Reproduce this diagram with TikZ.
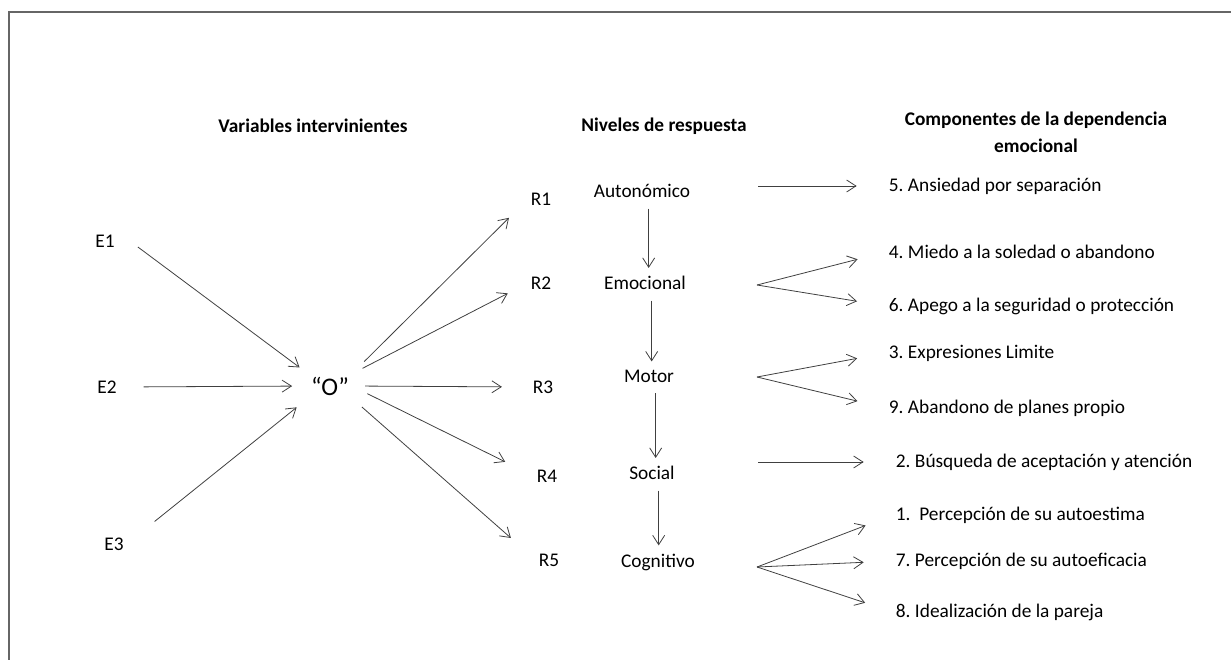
\documentclass[tikz,border=0pt]{standalone}
\usepackage{fontspec}
\setmainfont{Carlito}
\usetikzlibrary{arrows.meta}

\begin{document}
\frenchspacing
\begin{tikzpicture}
  [x=0.75pt,y=-0.75pt,
   every node/.style={font=\fontsize{14.5}{17}\selectfont,inner sep=2pt},
   head/.style={font=\fontsize{14.5}{20}\selectfont\bfseries,align=center},
   comp/.style={anchor=west},
   link/.style={-{Straight Barb[length=7pt,width=9pt]},draw=black!75,line width=0.6pt}]
  \useasboundingbox (0,0) rectangle (1231,660);
  \draw[black!60,line width=0.8pt] (1231,12) -- (9,12) -- (9,660);

  % column headings
  \node[head] (hvar)  at (313,126)  {Variables intervinientes};
  \node[head] (hniv)  at (664,126)  {Niveles de respuesta};
  \node[head] (hcomp) at (1036,132) {Componentes de la dependencia\\emocional};

  % stimuli and organism
  \node (E1) at (105,241) {E1};
  \node (E2) at (107,387) {E2};
  \node (E3) at (114,544) {E3};
  \node[font=\fontsize{19}{22}\selectfont] (O) at (330,386) {“O”};

  % responses
  \node (R1) at (541,199) {R1};
  \node (R2) at (541,283) {R2};
  \node (R3) at (543,387) {R3};
  \node (R4) at (547,476) {R4};
  \node (R5) at (549,560) {R5};

  % levels
  \node (aut) at (642,191) {Autonómico};
  \node (emo) at (645,283) {Emocional};
  \node (mot) at (649,376) {Motor};
  \node (soc) at (652,473) {Social};
  \node (cog) at (658,562) {Cognitivo};

  % components
  \node[comp] (c5) at (886,186) {5. Ansiedad por separación};
  \node[comp] (c4) at (886,252) {4. Miedo a la soledad o abandono};
  \node[comp] (c6) at (886,306) {6. Apego a la seguridad o protección};
  \node[comp] (c3) at (886,353) {3. Expresiones Limite};
  \node[comp] (c9) at (886,408) {9. Abandono de planes propio};
  \node[comp] (c2) at (893,462) {2. Búsqueda de aceptación y atención};
  \node[comp] (c1) at (893,515) {1.~ Percepción de su autoestima};
  \node[comp] (c7) at (893,561) {7. Percepción de su autoeficacia};
  \node[comp] (c8) at (893,612) {8. Idealización de la pareja};

  \coordinate (f1) at (758,186);
  \coordinate (f2) at (757,285);
  \coordinate (f3) at (757,377);
  \coordinate (f4) at (758,462);
  \coordinate (f5) at (757,567);

  \foreach \from/\to/\s/\e in {E1.north east/O.north west/19/8,
      E2.east/O.west/18/12,E3.east/O.south west/27/11,
      O.north east/R1.west/13/20,O.north east/R2.west/9/17,
      O.east/R3.west/10/21,O.east/R4.west/13/24,O.south east/R5.west/10/25}
    \draw[link,shorten <=\s pt,shorten >=\e pt] (\from) -- (\to);

  \foreach \from/\to in {aut/emo,emo/mot,mot/soc,soc/cog}
    \draw[link,shorten <=6pt,shorten >=4pt] ([xshift=5pt]\from.south) -- ([xshift=5pt]\from.south |- \to.north);

  \foreach \from/\to in {f1/c5,f2/c4,f2/c6,f3/c3,f3/c9,f4/c2,f5/c1,f5/c7,f5/c8}
    \draw[link,shorten >=22pt] (\from) -- (\to.west);

\end{tikzpicture}
\end{document}
